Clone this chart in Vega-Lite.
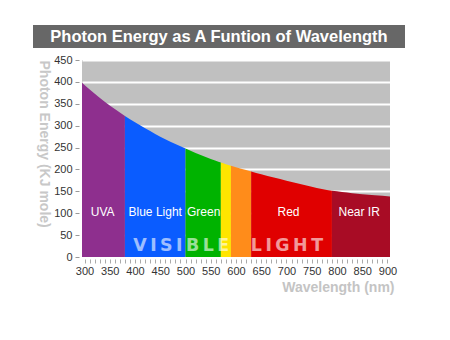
{
  "$schema": "https://vega.github.io/schema/vega-lite/v6.json",
  "padding": {"left": 33, "top": 25, "right": 10, "bottom": 30},
  "background": "white",
  "config": {"font": "Liberation Sans", "view": {"stroke": null}},
  "datasets": {
    "curve": [
      {"band": "UVA", "wl": 295, "e": 398},
      {"band": "UVA", "wl": 315, "e": 377.8},
      {"band": "UVA", "wl": 340, "e": 354.7},
      {"band": "UVA", "wl": 360, "e": 337.9},
      {"band": "UVA", "wl": 380, "e": 322},
      {"band": "Blue", "wl": 380, "e": 322},
      {"band": "Blue", "wl": 400, "e": 307.6},
      {"band": "Blue", "wl": 420, "e": 294},
      {"band": "Blue", "wl": 440, "e": 281.2},
      {"band": "Blue", "wl": 460, "e": 269.2},
      {"band": "Blue", "wl": 480, "e": 258},
      {"band": "Blue", "wl": 500, "e": 247.6},
      {"band": "Green", "wl": 500, "e": 247.6},
      {"band": "Green", "wl": 520, "e": 237.8},
      {"band": "Green", "wl": 540, "e": 228.5},
      {"band": "Green", "wl": 560, "e": 219.6},
      {"band": "Green", "wl": 570, "e": 215.6},
      {"band": "Yellow", "wl": 570, "e": 215.6},
      {"band": "Yellow", "wl": 580, "e": 212},
      {"band": "Yellow", "wl": 590, "e": 208.5},
      {"band": "Orange", "wl": 590, "e": 208.5},
      {"band": "Orange", "wl": 610, "e": 201.5},
      {"band": "Orange", "wl": 630, "e": 195.5},
      {"band": "Red", "wl": 630, "e": 195.5},
      {"band": "Red", "wl": 650, "e": 189.2},
      {"band": "Red", "wl": 675, "e": 181.6},
      {"band": "Red", "wl": 700, "e": 174.3},
      {"band": "Red", "wl": 725, "e": 167.4},
      {"band": "Red", "wl": 750, "e": 160.7},
      {"band": "Red", "wl": 770, "e": 155.6},
      {"band": "Red", "wl": 790, "e": 151.2},
      {"band": "NearIR", "wl": 790, "e": 151.2},
      {"band": "NearIR", "wl": 810, "e": 148.5},
      {"band": "NearIR", "wl": 830, "e": 145.7},
      {"band": "NearIR", "wl": 850, "e": 143.3},
      {"band": "NearIR", "wl": 875, "e": 140.8},
      {"band": "NearIR", "wl": 905, "e": 138.4}
    ],
    "labels": [
      {"label": "UVA", "wl": 336, "e": 94},
      {"label": "Blue Light", "wl": 440, "e": 94},
      {"label": "Green", "wl": 536, "e": 94},
      {"label": "Red", "wl": 704, "e": 94},
      {"label": "Near IR", "wl": 844, "e": 94}
    ],
    "banner": [
      {"label": "V\u2009I\u2009S\u2009I\u2009B\u2009L\u2009E\u2009\u00a0\u00a0\u00a0L\u2009I\u2009G\u2009H\u2009T", "wl": 584.4, "e": 13}
    ]
  },
  "spacing": 6,
  "vconcat": [
    {
      "width": 372,
      "height": 23,
      "view": {"fill": "#676767", "stroke": null},
      "data": {"values": [{"t": "Photon Energy as A Funtion of Wavelength"}]},
      "mark": {"type": "text", "color": "white", "fontSize": 16.5, "fontWeight": "bold"},
      "encoding": {"text": {"field": "t"}}
    },
    {
      "spacing": 2,
      "hconcat": [
        {
          "width": 1,
          "height": 1,
          "data": {"values": [{"t": ""}]},
          "mark": {"type": "text"},
          "encoding": {"text": {"field": "t"}}
        },
        {
          "width": 308,
          "height": 197,
          "view": {"fill": "#c0c0c0", "stroke": null},
          "encoding": {
            "x": {
              "field": "wl", "type": "quantitative",
              "scale": {"domain": [295, 905], "nice": false, "zero": false},
              "axis": {
                "values": [300,310,320,330,340,350,360,370,380,390,400,410,420,430,440,450,460,470,480,490,500,510,520,530,540,550,560,570,580,590,600,610,620,630,640,650,660,670,680,690,700,710,720,730,740,750,760,770,780,790,800,810,820,830,840,850,860,870,880,890,900],
                "labelExpr": "datum.value % 50 === 0 ? datum.label : ''",
                "labelOverlap": false,
                "labelFlush": false,
                "labelColor": "#333333",
                "labelFontSize": 11,
                "labelPadding": 2,
                "domain": false,
                "grid": false,
                "ticks": true,
                "tickSize": 4,
                "tickColor": "#aaaaaa",
                "offset": 2,
                "title": "Wavelength (nm)",
                "titleAnchor": "end",
                "titleAlign": "right",
                "titleX": 312,
                "titleColor": "#c4c4c4",
                "titleFontSize": 14,
                "titleFontWeight": "bold",
                "titlePadding": 4
              }
            },
            "y": {
              "field": "e", "type": "quantitative",
              "scale": {"domain": [0, 450], "nice": false},
              "axis": {
                "values": [0,50,100,150,200,250,300,350,400,450],
                "grid": true,
                "gridColor": "white",
                "gridWidth": 2,
                "domain": false,
                "tickSize": 4,
                "tickColor": "#999999",
                "offset": 3,
                "labelColor": "#333333",
                "labelFontSize": 11,
                "labelPadding": 3,
                "title": "Photon Energy (KJ mole)",
                "titleAngle": 90,
                "titleAnchor": "end",
                "titleAlign": "left",
                "titleBaseline": "top",
                "titleColor": "#c8c8c8",
                "titleFontSize": 14,
                "titleFontWeight": "bold",
                "titlePadding": 3
              }
            }
          },
          "layer": [
            {
              "data": {"name": "curve"},
              "mark": {"type": "area", "interpolate": "monotone"},
              "encoding": {
                "y": {"field": "e", "type": "quantitative", "stack": null},
                "color": {
                  "field": "band", "type": "nominal", "legend": null,
                  "scale": {
                    "domain": ["UVA", "Blue", "Green", "Yellow", "Orange", "Red", "NearIR"],
                    "range": ["#8e2f8e", "#0a5cff", "#00b300", "#ffe500", "#ff8c1a", "#e00000", "#a80c25"]
                  }
                }
              }
            },
            {
              "data": {"name": "labels"},
              "mark": {"type": "text", "color": "white", "fontSize": 12, "baseline": "alphabetic"},
              "encoding": {"text": {"field": "label"}}
            },
            {
              "data": {"name": "banner"},
              "mark": {"type": "text", "color": "white", "opacity": 0.6, "font": "DejaVu Sans", "fontSize": 17.4, "fontWeight": "bold", "baseline": "alphabetic"},
              "encoding": {"text": {"field": "label"}}
            }
          ]
        }
      ]
    }
  ]
}
